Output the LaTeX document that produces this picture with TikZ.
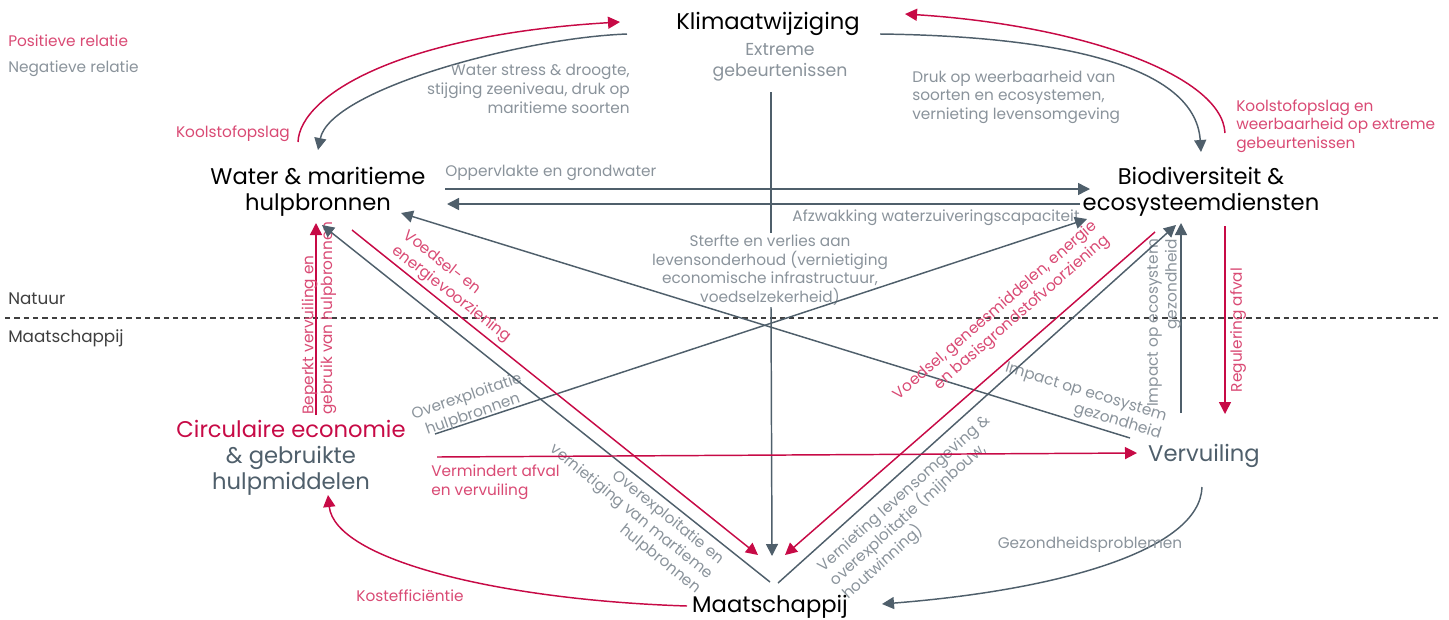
\documentclass[tikz,border=0pt]{standalone}
\usepackage{fontspec}
\setmainfont{Poppins}
\usepackage{tikz}
\usetikzlibrary{arrows.meta,calc}
\definecolor{PosRed}{HTML}{C70A46}
\definecolor{PosPink}{HTML}{D94A74}
\definecolor{NegSlate}{HTML}{4F5F6B}
\definecolor{NegGrey}{HTML}{8A939B}
\definecolor{SideGrey}{HTML}{3F3F3F}
\newcommand{\zonelabel}[3]{%
  \node[anchor=west, inner sep=0pt, text=SideGrey, font=\fontsize{12.6}{14}\selectfont] (#1) at #2 {#3};}

\begin{document}
\begin{tikzpicture}[x=0.75pt, y=-0.75pt,
    hub/.style={font=\fontsize{17}{19.5}\selectfont, align=center, inner sep=0pt},
    neglbl/.style={font=\fontsize{11.5}{14}\selectfont, text=NegGrey, inner sep=0pt},
    poslbl/.style={font=\fontsize{11.5}{14}\selectfont, text=PosPink, inner sep=0pt},
    negline/.style={draw=NegSlate, line width=1.1pt, -{Triangle[length=9pt,width=9pt]}},
    posline/.style={draw=PosRed, line width=1.1pt, -{Triangle[length=9pt,width=9pt]}}]
    \useasboundingbox (0,0) rectangle (1449,619);

    \node[poslbl, anchor=west] (posleg) at (8,41) {Positieve relatie};
    \node[neglbl, anchor=west] (negleg) at (8,69) {Negatieve relatie};
    \zonelabel{natuur}{(8,299)}{Natuur}
    \zonelabel{society}{(8,338)}{Maatschappij}
    \draw[SideGrey, line width=0.8pt, dash pattern=on 4pt off 3pt] (5,318) -- (1440,318);

    \node[hub] (klimaat) at (768,24) {Klimaatwijziging};
    \node[neglbl, font=\fontsize{13}{15.75}\selectfont, align=center] (extreme) at (780,62) {Extreme\\gebeurtenissen};
    \node[hub] (water) at (318,192) {Water \& maritieme\\hulpbronnen};
    \node[hub] (biodiv) at (1201,192) {Biodiversiteit \&\\ecosysteemdiensten};
    \node[hub, text=NegSlate] (circulair) at (291,458) {\textcolor{PosRed}{Circulaire economie}\\\& gebruikte\\hulpmiddelen};
    \node[hub, text=NegSlate] (vervuiling) at (1204,456) {Vervuiling};
    \node[hub] (maatschappij) at (770,607) {Maatschappij};

    \draw[posline] ($(water)+(-20,-50)$) .. controls (300,95) and (400,35) .. ($(klimaat)+(-148,-2)$);
    \node[poslbl, anchor=east] (koolwater) at (290,134) {Koolstofopslag};
    \draw[negline] ($(klimaat)+(-141,10)$) .. controls (520,38) and (330,90) .. ($(water)+(0,-42)$);
    \node[neglbl, align=right, anchor=east] (stress) at (630,89) {Water stress \& droogte,\\stijging zeeniveau, druk op\\maritieme soorten};
    \draw[negline] ($(klimaat)+(112,10)$) .. controls (1040,36) and (1195,60) .. ($(biodiv)+(0,-40)$);
    \node[neglbl, align=left, anchor=west] (druk) at (912,97) {Druk op weerbaarheid van\\soorten en ecosystemen,\\vernieting levensomgeving};
    \draw[posline] ($(biodiv)+(24,-59)$) .. controls (1222,75) and (1080,25) .. ($(klimaat)+(137,-10)$);
    \node[poslbl, align=left, anchor=west] (koolbio) at (1236,126) {Koolstofopslag en\\weerbaarheid op extreme\\gebeurtenissen};

    \node[neglbl, align=center] (sterfte) at (770,270) {Sterfte en verlies aan\\levensonderhoud (vernietiging\\economische infrastructuur,\\voedselzekerheid)};
    \draw[draw=NegSlate, line width=1.1pt] ($(extreme)+(-9,30)$) -- ($(sterfte)+(1,-37)$);
    \draw[negline] ($(sterfte)+(1,37)$) -- ($(maatschappij)+(2,-51)$);

    \draw[negline] ($(water)+(127,-3)$) -- ($(biodiv)+(-111,-3)$);
    \node[neglbl, anchor=west] (opp) at (445,173) {Oppervlakte en grondwater};
    \draw[negline] ($(biodiv)+(-121,12)$) -- ($(water)+(129,12)$);
    \node[neglbl] (afzwakking) at (936,218) {Afzwakking waterzuiveringscapaciteit};

    \draw[negline] ($(circulair)+(144,-24)$) -- ($(biodiv)+(-114,27)$);
    \node[neglbl, align=center, rotate=19] (overhulp) at (470,406) {Overexploitatie\\hulpbronnen};
    \draw[negline] ($(vervuiling)+(-74,-18)$) -- ($(water)+(83,21)$);
    \node[neglbl, align=right, rotate=-17] (impactdiag) at (1083,402) {Impact op ecosystem\\gezondheid};
    \draw[negline] ($(vervuiling)+(-23,-43)$) -- ($(biodiv)+(-20,31)$);
    \node[neglbl, align=right, rotate=90] (impactvert) at (1164,323) {Impact op ecosystem\\gezondheid};
    \draw[posline] ($(biodiv)+(24,34)$) -- ($(vervuiling)+(21,-42)$);
    \node[poslbl, rotate=90] (regulering) at (1238,330) {Regulering afval};
    \draw[posline] ($(circulair)+(25,-43)$) -- ($(water)+(-2,31)$);
    \node[poslbl, align=left, rotate=90] (beperkt) at (319,318) {Beperkt vervuiling en\\gebruik van hulpbronnen};

    \draw[negline] ($(maatschappij)+(0,-25)$) -- ($(water)+(4,33)$);
    \node[neglbl, align=right, rotate=-39] (overmar) at (631,512) {Overexploitatie en\\vernietiging van martieme\\hulpbronnen};
    \draw[posline] ($(water)+(34,38)$) -- ($(maatschappij)+(-12,-52)$);
    \node[poslbl, align=left, rotate=-38] (voedselwater) at (457,287) {Voedsel- en\\energievoorziening};
    \draw[posline] ($(biodiv)+(-46,40)$) -- ($(maatschappij)+(15,-52)$);
    \node[poslbl, align=right, rotate=41] (voedselbio) at (1002,318) {Voedsel, geneesmiddelen, energie\\en basisgrondstofvoorziening};
    \draw[negline] ($(maatschappij)+(8,-24)$) -- ($(biodiv)+(-25,33)$);
    \node[neglbl, align=left, rotate=42] (vernieting) at (917,508) {Vernieting levensomgeving \&\\overexploitatie (mijnbouw,\\houtwinning)};

    \draw[posline] ($(circulair)+(146,-1)$) -- ($(vervuiling)+(-67,-3)$);
    \node[poslbl, align=left, anchor=west] (vermindert) at (431,482) {Vermindert afval\\en vervuiling};
    \draw[negline] ($(vervuiling)+(-2,31)$) .. controls (1200,550) and (1060,590) .. ($(maatschappij)+(112,-3)$);
    \node[neglbl] (gezondheid) at (1090,545) {Gezondheidsproblemen};
    \draw[posline] ($(maatschappij)+(-83,-1)$) .. controls (500,600) and (335,560) .. ($(circulair)+(37,37)$);
    \node[poslbl] (kosten) at (410,596) {Kostefficiëntie};
\end{tikzpicture}
\end{document}
